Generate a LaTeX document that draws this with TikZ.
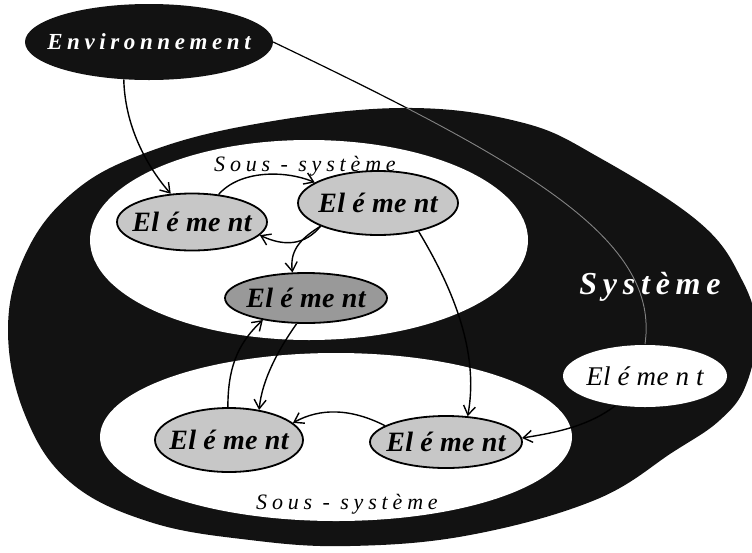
\documentclass[tikz,border=0pt]{standalone}
\usepackage{fontspec}
\setmainfont{Liberation Serif}
\newfontfamily\elfont[LetterSpace=1]{Liberation Serif}
\newfontfamily\envfont[LetterSpace=20]{Liberation Serif}
\newfontfamily\widefont[LetterSpace=22]{Liberation Serif}
\newfontfamily\sysfont[LetterSpace=18]{Liberation Serif}
\newcommand{\zw}[1]{\makebox[0pt]{#1}}
\usetikzlibrary{shapes.geometric,arrows.meta}
\begin{document}
\begin{tikzpicture}[x=1pt,y=-1pt,
  region/.style={ellipse, inner sep=0pt, draw=none},
  elem/.style={ellipse, draw=black, line width=1.8pt, fill=black!22, inner sep=0pt,
    font=\fontsize{28}{30}\selectfont\elfont\bfseries\itshape},
  conn/.style={line width=1.4pt, -{Straight Barb[length=9pt,width=12pt,line width=1.4pt]}},
  sslabel/.style={font=\fontsize{22}{24}\selectfont\widefont\itshape, inner sep=0pt}
]
\useasboundingbox (0,0) rectangle (752,552);
\def\outerpath{plot[smooth cycle, tension=0.65] coordinates {(8,330) (25,255) (70,195) (140,155) (250,125) (400,108) (520,122) (600,158) (700,223) (742,280) (756,330) (746,385) (720,420) (673,452) (595,500) (470,535) (350,546) (250,540) (150,522) (70,482) (25,415)}}
% system
\fill[black!93] \outerpath;
\node[region, fill=white, minimum width=438pt, minimum height=200pt] (ss1) at (309,240) {};
\node[region, fill=white, minimum width=472pt, minimum height=168pt] (ss2) at (336,437) {};
% environment
\node[region, fill=black!93, minimum width=248pt, minimum height=76pt,
  text=white, font=\fontsize{23}{25}\selectfont\envfont\bfseries\itshape] (env) at (149,42) {\zw{Environnement}};
% labels
\node[text=white, inner sep=0pt, font=\fontsize{32}{34}\selectfont\sysfont\bfseries\itshape] (systxt) at (650,287) {Système};
\node[sslabel] (ss1txt) at (305,166) {Sous - système};
\node[sslabel] (ss2txt) at (347,504) {Sous - système};
% elements
\node[elem, minimum width=150pt, minimum height=57pt] (e1) at (192,222) {\zw{El é me nt}};
\node[elem, minimum width=160pt, minimum height=64pt] (e2) at (378,203) {\zw{El é me nt}};
\node[elem, fill=black!40, minimum width=162pt, minimum height=50pt] (e3) at (306,298) {\zw{El é me nt}};
\node[elem, minimum width=148pt, minimum height=64pt] (e4) at (229,440) {\zw{El é me nt}};
\node[elem, minimum width=152pt, minimum height=52pt] (e5) at (446,442) {\zw{El é me nt}};
\node[elem, fill=white, draw=none, font=\fontsize{27}{29}\selectfont\elfont\itshape,
  minimum width=164pt, minimum height=62pt] (e6) at (645,376) {\zw{El é me n t}};
% connectors
\draw[line width=1.2pt] (env.0) .. controls (530,165) and (660,240) .. (e6.90);
\begin{scope}
  \clip \outerpath;
  \draw[black!50, line width=1pt] (env.0) .. controls (530,165) and (660,240) .. (e6.90);
\end{scope}
\draw[conn] (env.236) .. controls (125,130) and (150,170) .. (e1.127);
\draw[conn] (e1.46) .. controls (240,170) and (285,170) .. (e2.162);
\draw[conn] (e2.202) .. controls (305,245) and (285,247) .. (e1.349);
\draw[conn] (e2.202) .. controls (298,240) and (290,252) .. (e3.118);
\draw[conn] (e4.92) .. controls (228,370) and (236,345) .. (e3.207);
\draw[conn] (e3.250) .. controls (278,350) and (262,380) .. (e4.45);
\draw[conn] (e2.325) .. controls (460,300) and (478,360) .. (e5.50);
\draw[conn] (e5.165) .. controls (350,408) and (320,408) .. (e4.15);
\draw[conn] (e6.225) .. controls (590,425) and (560,432) .. (e5.3);
\end{tikzpicture}
\end{document}
